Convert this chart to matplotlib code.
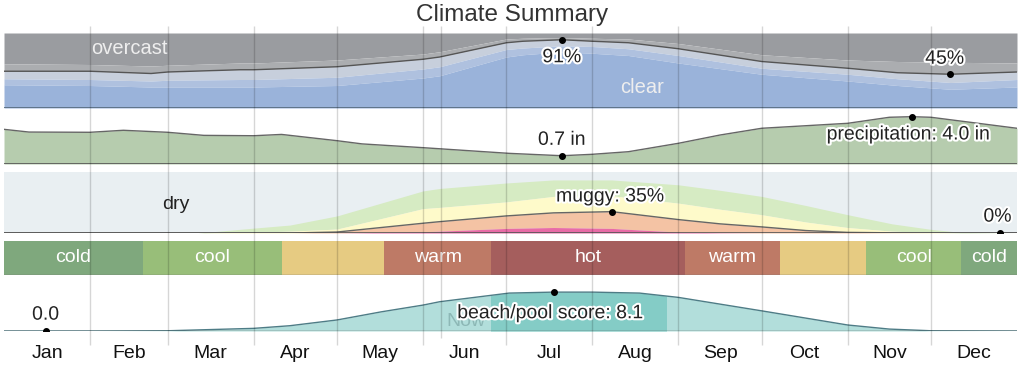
import matplotlib
matplotlib.use("Agg")
import matplotlib.pyplot as plt
import matplotlib.patheffects as pe
from matplotlib.patches import Rectangle
import numpy as np

# ---- data (x = day of year) ----
months = ["Jan", "Feb", "Mar", "Apr", "May", "Jun", "Jul", "Aug", "Sep", "Oct", "Nov", "Dec"]
month_start = [0, 31, 59, 90, 120, 151, 181, 212, 243, 273, 304, 334]
now_day = 157.5

# cloud cover, cumulative % from the bottom
cloud_days = [0, 31, 53, 59, 85, 90, 120, 151, 157, 181, 187, 201, 212, 225, 243, 273, 304, 322, 341, 365]
clear = [31, 30, 28, 28, 28, 28, 30, 40, 43, 68, 71, 75, 73, 70, 60, 45, 36, 30, 25, 28]
mostly_clear = [39, 38, 36, 37, 38, 38, 41, 52, 55, 78, 80, 83, 82, 79, 70, 53, 45, 39, 34, 38]
partly_cloudy = [49, 49, 46, 48, 51, 51, 55, 65, 68, 87, 89, 91, 89, 87, 79, 62, 53, 47, 45, 48]
mostly_cloudy = [59, 58, 56, 57, 60, 60, 64, 72, 75, 92, 93, 94, 93, 92, 86, 71, 64, 62, 61, 60]

# precipitation (inches)
precip_days = [0, 9, 31, 43, 59, 72, 90, 100, 120, 129, 151, 182, 201, 212, 225, 243, 258, 273, 304, 319, 327, 334, 365]
precip = [2.93, 2.7, 2.68, 2.85, 2.68, 2.42, 2.39, 2.5, 1.97, 1.7, 1.38, 0.9, 0.7, 0.82, 1.04, 1.75,
          2.45, 3.02, 3.44, 3.95, 4.0, 3.95, 3.02]

# humidity comfort, cumulative % from the bottom
hum_days = [0, 70, 90, 103, 120, 151, 157, 181, 198, 219, 243, 258, 273, 289, 304, 320, 334, 345, 365]
comfortable = [0, 0, 8, 13, 28, 69, 73, 82, 87, 87, 79, 70, 60, 45, 30, 15, 6, 1, 0]
humid = [0, 0, 1.5, 3, 6.5, 40, 42, 51, 60, 61, 49, 39, 30, 18, 9, 3, 1, 0, 0]
muggy = [0, 0, 0, 0, 1.6, 16, 18.6, 28, 33, 35, 22, 15, 10, 4, 1, 0.3, 0, 0, 0]
oppressive = [0, 0, 0, 0, 0, 2, 3, 7.5, 9, 7.5, 1.5, 0.5, 0, 0, 0, 0, 0, 0, 0]

# temperature bands
temp_edges = [0, 50, 100, 137, 175.5, 245.5, 279.5, 310.5, 345, 365]
temp_cats = ["cold", "cool", "comfortable", "warm", "hot", "warm", "comfortable", "cool", "cold"]

# beach/pool score
beach_days = [0, 31, 59, 90, 103, 120, 136, 151, 157, 182, 198, 212, 229, 243, 273, 304, 319, 334, 365]
beach = [0, 0, 0.05, 0.55, 1.1, 2.3, 4.0, 5.4, 6.1, 7.9, 8.1, 8.1, 7.9, 7.0, 4.2, 1.25, 0.4, 0.05, 0]
best_season = (175.5, 238.5)

# ---- styles ----
plt.rcParams["font.family"] = ["Liberation Sans", "DejaVu Sans"]
W, H = 1024, 381
X0, X1 = 4, 1017
temp_colors = {"cold": "#7FA87D", "cool": "#98BE79", "comfortable": "#E6CB82",
               "warm": "#BE7A66", "hot": "#A55E5D"}
halo = [pe.withStroke(linewidth=3, foreground="white")]

fig = plt.figure(figsize=(W / 100, H / 100), dpi=100)


def panel(top, bottom, ymax):
    ax = fig.add_axes([X0 / W, (H - bottom) / H, (X1 - X0) / W, (bottom - top) / H])
    ax.set_xlim(0, 365)
    ax.set_ylim(0, ymax)
    ax.axis("off")
    return ax


# cloud cover
ax1 = panel(33, 108, 100)
ax1.fill_between(cloud_days, mostly_cloudy, 100, color="#9A9CA0", lw=0)
ax1.fill_between(cloud_days, partly_cloudy, mostly_cloudy, color="#ABADB0", lw=0)
ax1.fill_between(cloud_days, mostly_clear, partly_cloudy, color="#C7CFDC", lw=0)
ax1.fill_between(cloud_days, clear, mostly_clear, color="#AFC1DF", lw=0)
ax1.fill_between(cloud_days, 0, clear, color="#9AB3DA", lw=0)
ax1.plot(cloud_days, partly_cloudy, color="#555555", lw=1)
ax1.axhline(0, color="#5A6E82", lw=2)
ax1.text(45, 80, "overcast", color="#EEEEEE", fontsize=14.5, ha="center", va="center")
ax1.text(230, 27, "clear", color="#EEEEEE", fontsize=14.5, ha="center", va="center")
i = int(np.argmax(partly_cloudy))
ax1.plot(cloud_days[i], partly_cloudy[i], "o", color="black", ms=4)
ax1.text(cloud_days[i], partly_cloudy[i] - 24, f"{partly_cloudy[i]}%", fontsize=14,
         ha="center", va="center", color="#222222", path_effects=halo)
j = int(np.argmin(partly_cloudy))
ax1.plot(cloud_days[j], partly_cloudy[j], "o", color="black", ms=4)
ax1.text(cloud_days[j] - 2, partly_cloudy[j] + 20, f"{partly_cloudy[j]}%", fontsize=14,
         ha="center", va="center", color="#222222", path_effects=halo)

# precipitation
ax2 = panel(110, 164, 54 / 11.83)
ax2.fill_between(precip_days, 0, precip, color="#B6CCAE", lw=0)
ax2.plot(precip_days, precip, color="#666666", lw=1)
ax2.axhline(0, color="#555555", lw=1.2)
i = int(np.argmin(precip))
ax2.plot(precip_days[i], precip[i], "o", color="black", ms=4)
ax2.text(precip_days[i], precip[i] + 1.3, f"{precip[i]:.1f} in", fontsize=14,
         ha="center", va="center", color="#222222", path_effects=halo)
j = int(np.argmax(precip))
ax2.plot(precip_days[j], precip[j], "o", color="black", ms=4)
ax2.text(precip_days[j] - 1, precip[j] - 1.55, f"precipitation: {precip[j]:.1f} in", fontsize=14,
         ha="center", va="center", color="#222222", path_effects=halo)

# humidity
ax3 = panel(172, 233, 100)
ax3.add_patch(Rectangle((0, 0), 365, 100, color="#E9EFF2", lw=0))
ax3.fill_between(hum_days, humid, comfortable, color="#D6EBC3", lw=0)
ax3.fill_between(hum_days, muggy, humid, color="#FEFACA", lw=0)
ax3.fill_between(hum_days, oppressive, muggy, color="#F4C3A4", lw=0)
ax3.fill_between(hum_days, 0, oppressive, color="#E86BA6", lw=0)
ax3.plot(hum_days, muggy, color="#666666", lw=1)
ax3.axhline(0, color="#555555", lw=1.2)
ax3.text(62, 46, "dry", fontsize=14, ha="center", va="center", color="#222222")
i = int(np.argmax(muggy))
ax3.plot(hum_days[i], muggy[i], "o", color="black", ms=4)
ax3.text(hum_days[i] - 0.5, muggy[i] + 24, f"muggy: {muggy[i]:.0f}%", fontsize=14,
         ha="center", va="center", color="#222222", path_effects=halo)
ax3.plot(359, 0, "o", color="black", ms=4)
ax3.text(358, 26, "0%", fontsize=14, ha="center", va="center", color="#222222", path_effects=halo)

# temperature
ax4 = panel(241, 275, 1)
for k, cat in enumerate(temp_cats):
    left, right = temp_edges[k], temp_edges[k + 1]
    ax4.add_patch(Rectangle((left, 0), right - left, 1, color=temp_colors[cat], lw=0))
    if cat != "comfortable":
        ax4.text((left + right) / 2, 0.5, cat, fontsize=14, color="white", ha="center", va="center")
ax4.axhline(0, color="#777777", lw=1)

# beach / pool
ax5 = panel(283, 331, 10)
ax5.fill_between(beach_days, 0, beach, color="#B2DEDB", lw=0)
dark = ax5.fill_between(beach_days, 0, beach, color="#84CCC6", lw=0)
clip = Rectangle((best_season[0], 0), best_season[1] - best_season[0], 10, transform=ax5.transData)
dark.set_clip_path(clip)
ax5.plot(beach_days, beach, color="#4E7C86", lw=1)
ax5.axhline(0, color="#555555", lw=1)
ax5.text(now_day + 9, 2.0, "Now", fontsize=14, color="#8DB8B6", ha="center", va="center", zorder=1)
i = int(np.argmax(beach))
ax5.plot(beach_days[i], beach[i], "o", color="black", ms=4)
ax5.text(beach_days[i] - 1, beach[i] - 4.5, f"beach/pool score: {beach[i]:.1f}", fontsize=14,
         ha="center", va="center", color="#222222", path_effects=halo, zorder=5)
ax5.plot(15, 0, "o", color="black", ms=4)
ax5.text(15, 3.3, "0.0", fontsize=14, ha="center", va="center", color="#222222", path_effects=halo)

# overlay: grid lines, month labels, title (y in pixels from top)
ov = fig.add_axes([X0 / W, 0, (X1 - X0) / W, 1], zorder=10)
ov.set_xlim(0, 365)
ov.set_ylim(H, 0)
ov.axis("off")
ov.patch.set_alpha(0)
ov.vlines(month_start[1:], 26, 345, color="black", alpha=0.16, lw=1)
ov.vlines([now_day], 26, 338, color="black", alpha=0.16, lw=1)
for m, s in enumerate(month_start):
    e = month_start[m + 1] if m < 11 else 365
    ov.text((s + e) / 2, 354, months[m], fontsize=14, ha="center", va="center", color="#111111")
fig.text(0.5, 1 - 15 / H, "Climate Summary", fontsize=17.5, ha="center", va="center", color="#333333")

fig.savefig("out.png", dpi=100)
